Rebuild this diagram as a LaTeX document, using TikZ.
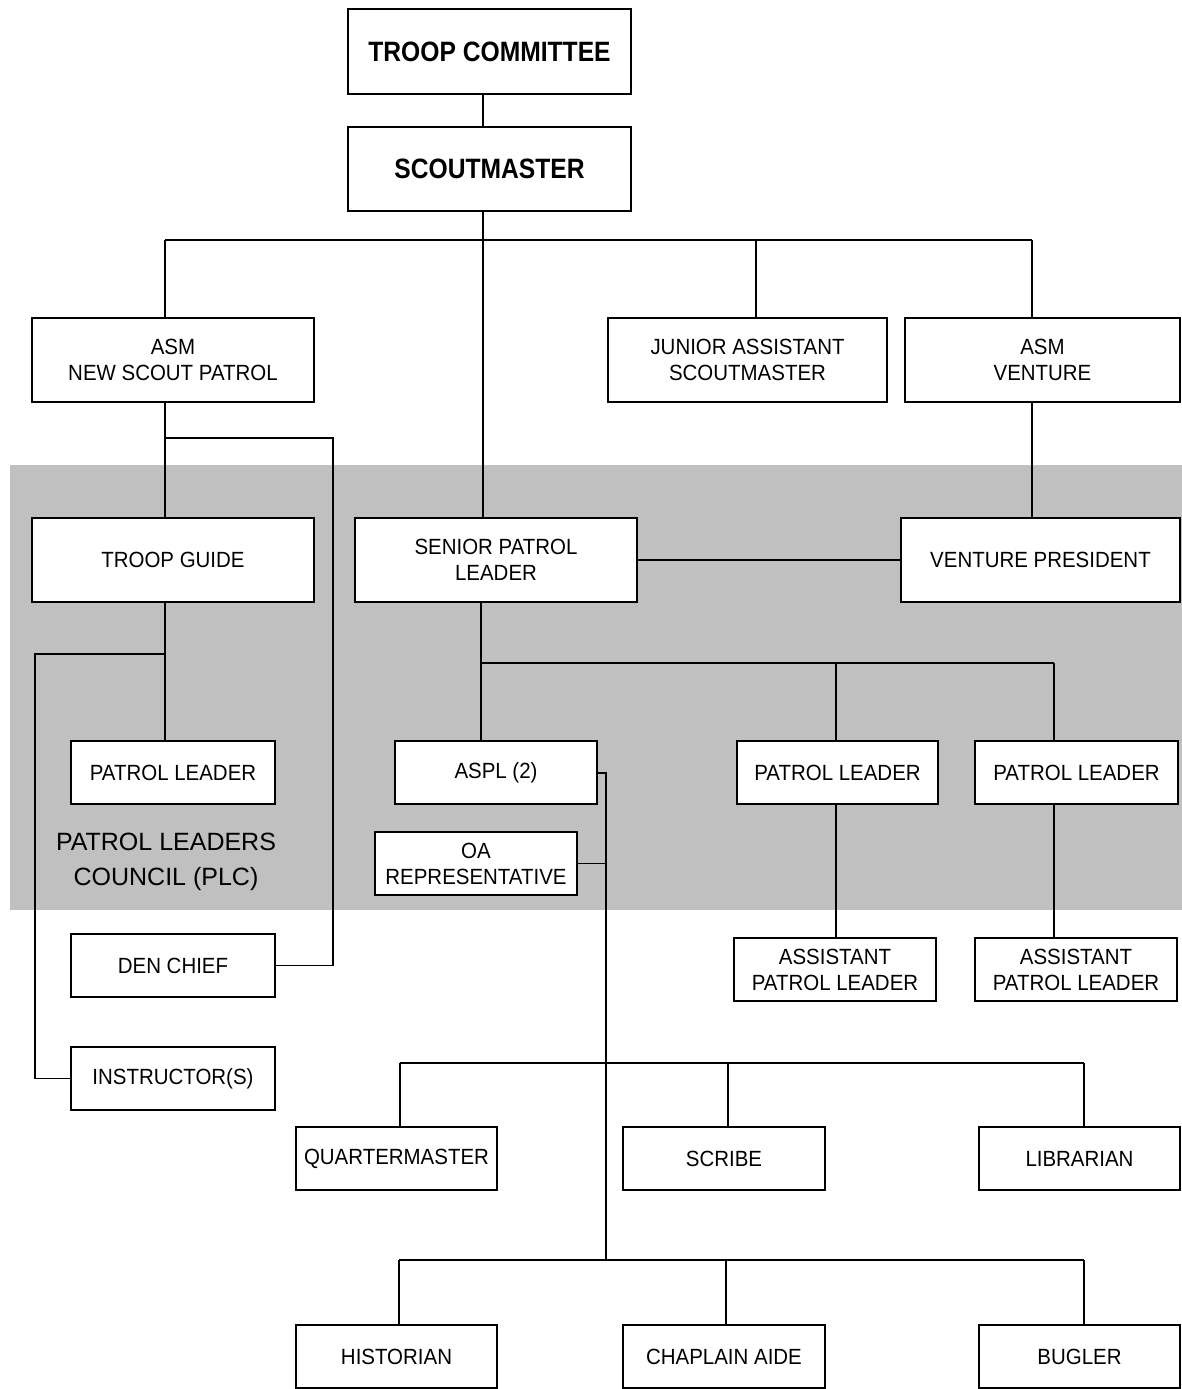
\documentclass[tikz,border=0pt]{standalone}
\usepackage{fontspec}
\setmainfont{Liberation Sans}
\newfontfamily\boxfont[FakeStretch=0.93]{Liberation Sans}
\newfontfamily\titlefont[FakeStretch=0.88]{Liberation Sans}
\definecolor{bandgray}{RGB}{192,192,192}
\tikzset{
  box/.style={draw, line width=1.6pt, fill=white, inner sep=0pt, align=center,
    font=\boxfont\fontsize{22}{26}\selectfont},
  bigbox/.style={box, minimum width=283pt, font=\titlefont\bfseries\fontsize{28}{32}\selectfont},
  wide/.style={minimum width=282pt, minimum height=84pt},
  small/.style={minimum width=202pt, minimum height=63pt},
  conn/.style={line width=1.6pt}
}
\begin{document}
\begin{tikzpicture}[x=1pt,y=-1pt]
\useasboundingbox (0,0) rectangle (1182,1389);
\fill[bandgray] (10,465) rectangle (1182,910);

% top
\node[bigbox, minimum height=85pt] (tc) at (489.5,51.5) {TROOP COMMITTEE};
\node[bigbox, minimum height=84pt] (sm) at (489.5,169) {SCOUTMASTER};

% second row
\node[box, wide] (asmn) at (173,360) {ASM\\NEW SCOUT PATROL};
\node[box, wide, minimum width=279pt] (jasm) at (747.5,360) {JUNIOR ASSISTANT\\SCOUTMASTER};
\node[box, wide, minimum width=275pt] (asmv) at (1042.5,360) {ASM\\VENTURE};

% band row
\node[box, wide] (tg) at (173,560) {TROOP GUIDE};
\node[box, wide] (spl) at (496,560) {SENIOR PATROL\\LEADER};
\node[box, wide, minimum width=279pt] (vp) at (1040.5,560) {VENTURE PRESIDENT};

\node[box, small, minimum width=204pt] (plL) at (173,772.5) {PATROL LEADER};
\node[box, small] (aspl) at (496,772.5) {ASPL (2)};
\node[box, small] (oa) at (476,863.5) {OA\\REPRESENTATIVE};
\node[box, small, minimum width=201pt] (plM) at (837.5,772.5) {PATROL LEADER};
\node[box, small, minimum width=203pt] (plR) at (1076.5,772.5) {PATROL LEADER};

\node[align=center, font=\fontsize{25}{35}\selectfont] (plc) at (166,862) {PATROL LEADERS\\COUNCIL (PLC)};

% below band
\node[box, small, minimum width=204pt] (dc) at (173,965.5) {DEN CHIEF};
\node[box, small, minimum width=204pt] (ins) at (173,1078.5) {INSTRUCTOR(S)};
\node[box, small] (aplM) at (835,969.5) {ASSISTANT\\PATROL LEADER};
\node[box, small] (aplR) at (1076,969.5) {ASSISTANT\\PATROL LEADER};

\node[box, small, minimum width=201pt] (qm) at (396.5,1158.5) {QUARTERMASTER};
\node[box, small] (scribe) at (724,1158.5) {SCRIBE};
\node[box, small, minimum width=201pt] (lib) at (1079.5,1158.5) {LIBRARIAN};
\node[box, small, minimum width=201pt] (hist) at (396.5,1356.5) {HISTORIAN};
\node[box, small] (chap) at (724,1356.5) {CHAPLAIN AIDE};
\node[box, small, minimum width=201pt] (bug) at (1079.5,1356.5) {BUGLER};

% coordinates
\coordinate (spine) at (483,240);
\coordinate (b1L) at (165,240);
\coordinate (b1J) at (756,240);
\coordinate (b1R) at (1032,240);
\coordinate (dcj) at (165,438);
\coordinate (dcx) at (333,438);
\coordinate (ij) at (165,654);
\coordinate (ix) at (35,654);
\coordinate (b2L) at (481,663);
\coordinate (b2M) at (836,663);
\coordinate (b2R) at (1054,663);
\coordinate (v) at (606,773);
\coordinate (b3L) at (400,1063);
\coordinate (b3M) at (728,1063);
\coordinate (b3R) at (1084,1063);
\coordinate (b4L) at (399,1260);
\coordinate (b4M) at (726,1260);
\coordinate (b4R) at (1084,1260);

% connectors
\draw[conn] (spine |- tc.south) -- (spine |- sm.north);
\draw[conn] (spine |- sm.south) -- (spine |- spl.north);
\draw[conn] (b1L) -- (b1R);
\draw[conn] (b1L) -- (b1L |- asmn.north);
\draw[conn] (b1J) -- (b1J |- jasm.north);
\draw[conn] (b1R) -- (b1R |- asmv.north);
\draw[conn] (b1R |- asmv.south) -- (b1R |- vp.north);
\draw[conn] (b1L |- asmn.south) -- (b1L |- tg.north);
\draw[conn] (dcj) -- (dcx) -- (dcx |- dc.east) -- (dc.east);
\draw[conn] (b1L |- tg.south) -- (b1L |- plL.north);
\draw[conn] (ij) -- (ix) -- (ix |- ins.west) -- (ins.west);
\draw[conn] (spl.east) -- (vp.west);
\draw[conn] (b2L |- spl.south) -- (b2L |- aspl.north);
\draw[conn] (b2L) -- (b2R);
\draw[conn] (b2M) -- (b2M |- plM.north);
\draw[conn] (b2R) -- (b2R |- plR.north);
\draw[conn] (b2M |- plM.south) -- (b2M |- aplM.north);
\draw[conn] (b2R |- plR.south) -- (b2R |- aplR.north);
\draw[conn] (aspl.east |- v) -- (v) -- (v |- b4L);
\draw[conn] (oa.east) -- (oa.east -| v);
\draw[conn] (b3L) -- (b3R);
\draw[conn] (b3L) -- (b3L |- qm.north);
\draw[conn] (b3M) -- (b3M |- scribe.north);
\draw[conn] (b3R) -- (b3R |- lib.north);
\draw[conn] (b4L) -- (b4R);
\draw[conn] (b4L) -- (b4L |- hist.north);
\draw[conn] (b4M) -- (b4M |- chap.north);
\draw[conn] (b4R) -- (b4R |- bug.north);
\end{tikzpicture}
\end{document}
